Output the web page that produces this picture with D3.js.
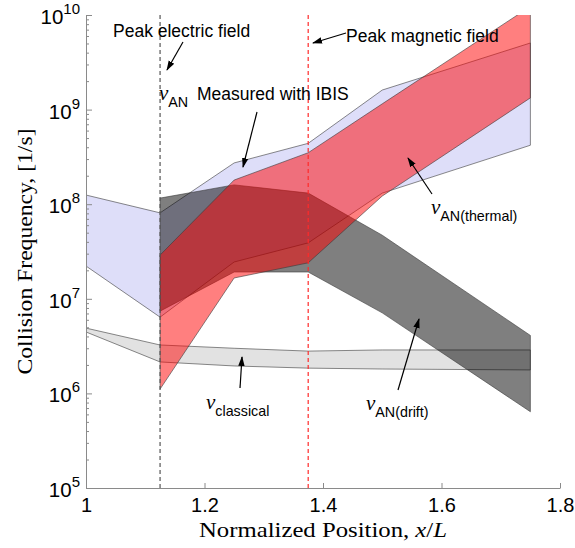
<!DOCTYPE html>
<html>
<head>
<meta charset="utf-8">
<script src="https://cdn.jsdelivr.net/npm/d3@7"></script>
<style>
  body { margin: 0; background: #fff; }
  svg { display: block; }
</style>
</head>
<body>
<div id="chart"></div>
<script>
// sample positions along the plasma (normalized x/L)
const xAll = [1, 1.125, 1.25, 1.375, 1.5, 1.75];
const xInner = [1.125, 1.25, 1.375, 1.5, 1.75];

// nu_AN measured with IBIS (blue band)
const ibisHigh = [1.25e8, 8.1e7, 2.73e8, 4.4e8, 1.61e9, 5.06e9];
const ibisLow = [2.22e7, 6.4e6, 2.45e7, 3.9e7, 1.31e8, 4.2e8];

// nu_classical (light grey band)
const classicalHigh = [4.9e6, 3.25e6, 3.0e6, 2.8e6, 2.88e6, 2.88e6];
const classicalLow = [4.46e6, 2.15e6, 1.95e6, 1.85e6, 1.81e6, 1.77e6];

// nu_AN(drift) (dark grey band)
const driftHigh = [1.16e8, 1.6e8, 1.31e8, 4.7e7, 4.1e6];
const driftLow = [7.4e6, 1.92e7, 1.92e7, 7.1e6, 6.4e5];

// nu_AN(thermal) (red band)
const thermalHigh = [2.9e7, 1.8e8, 3.5e8, 1.15e9, 1.23e10];
const thermalLow = [1.11e6, 1.66e7, 2.4e7, 1.22e8, 1.33e9];

// vertical markers
const peakElectric = 1.125;
const peakMagnetic = 1.375;

const xTicks = [1, 1.2, 1.4, 1.6, 1.8];
const yDecades = [5, 6, 7, 8, 9, 10];

const width = 575, height = 548;
const margin = { top: 15, right: 15, bottom: 60, left: 86 };

const svg = d3.select("#chart").append("svg")
  .attr("width", width)
  .attr("height", height);

const x = d3.scaleLinear()
  .domain([1, 1.8])
  .range([margin.left, width - margin.right]);

const y = d3.scaleLog()
  .domain([1e5, 1e10])
  .range([height - margin.bottom, margin.top]);

svg.append("defs").append("clipPath")
  .attr("id", "plot-clip")
  .append("rect")
  .attr("x", x(1)).attr("y", y(1e10))
  .attr("width", x(1.8) - x(1))
  .attr("height", y(1e5) - y(1e10));

svg.select("defs").append("marker")
  .attr("id", "arrow")
  .attr("viewBox", "0 -4 10 8")
  .attr("refX", 9).attr("refY", 0)
  .attr("markerWidth", 10).attr("markerHeight", 8)
  .attr("markerUnits", "userSpaceOnUse")
  .attr("orient", "auto")
  .append("path")
  .attr("d", "M0,-3.2L10,0L0,3.2Z")
  .attr("fill", "#000");

// band = polygon between the low and high series
const area = d3.area()
  .x(d => x(d.x))
  .y0(d => y(d.lo))
  .y1(d => y(d.hi));

function band(xs, hi, lo) {
  return xs.map((v, i) => ({ x: v, hi: hi[i], lo: lo[i] }));
}

const plot = svg.append("g").attr("clip-path", "url(#plot-clip)");

function drawBand(data, fill, opacity) {
  plot.append("path")
    .datum(data)
    .attr("d", area)
    .attr("fill", fill)
    .attr("fill-opacity", opacity)
    .attr("stroke", "#3a3a3a")
    .attr("stroke-width", 0.6)
    .attr("stroke-linejoin", "round");
}

drawBand(band(xAll, ibisHigh, ibisLow), "#dedef9", 1);
drawBand(band(xAll, classicalHigh, classicalLow), "#e2e2e2", 1);
drawBand(band(xInner, driftHigh, driftLow), "#000", 0.5);
drawBand(band(xInner, thermalHigh, thermalLow), "#ff0000", 0.5);

// dashed markers
svg.append("line")
  .attr("x1", x(peakElectric)).attr("x2", x(peakElectric))
  .attr("y1", y(1e10)).attr("y2", y(1e5))
  .attr("stroke", "#555")
  .attr("stroke-width", 1.2)
  .attr("stroke-dasharray", "4,3");

svg.append("line")
  .attr("x1", x(peakMagnetic)).attr("x2", x(peakMagnetic))
  .attr("y1", y(1e10)).attr("y2", y(1e5))
  .attr("stroke", "#ff2a2a")
  .attr("stroke-width", 1.2)
  .attr("stroke-dasharray", "4,3");

// axes (ticks point inward, left and bottom only)
const axisColor = "#8a8a8a";

const gx = svg.append("g")
  .attr("transform", `translate(0,${y(1e5)})`)
  .call(d3.axisBottom(x).tickValues(xTicks).tickSizeInner(-5).tickSizeOuter(0).tickPadding(10)
    .tickFormat(d3.format("")));
gx.select(".domain").attr("stroke", axisColor);
gx.selectAll(".tick line").attr("stroke", axisColor);
gx.selectAll(".tick text")
  .attr("font-family", "Liberation Sans, Arial, sans-serif")
  .attr("font-size", 20)
  .attr("fill", "#000");

const minorVals = [];
yDecades.slice(0, -1).forEach(e => {
  for (let k = 2; k <= 9; k++) minorVals.push(k * Math.pow(10, e));
});

const gyMinor = svg.append("g")
  .attr("transform", `translate(${x(1)},0)`)
  .call(d3.axisLeft(y).tickValues(minorVals).tickSizeInner(-3).tickSizeOuter(0).tickFormat(""));
gyMinor.select(".domain").remove();
gyMinor.selectAll(".tick line").attr("stroke", axisColor);

const gy = svg.append("g")
  .attr("transform", `translate(${x(1)},0)`)
  .call(d3.axisLeft(y).tickValues(yDecades.map(e => Math.pow(10, e))).tickSizeInner(-6).tickSizeOuter(0).tickFormat(""));
gy.select(".domain").attr("stroke", axisColor);
gy.selectAll(".tick line").attr("stroke", axisColor);

// y tick labels as 10^n
const yLabels = svg.append("g")
  .attr("font-family", "Liberation Sans, Arial, sans-serif")
  .attr("fill", "#000");
yDecades.forEach(e => {
  const t = yLabels.append("text")
    .attr("x", x(1) - 6)
    .attr("y", y(Math.pow(10, e)) + 9)
    .attr("text-anchor", "end")
    .attr("font-size", 20.5);
  t.append("tspan").text("10");
  t.append("tspan").attr("dy", -10).attr("font-size", 15).text(e);
});

// axis titles
svg.append("text")
  .attr("transform", `translate(32,${(y(1e5) + y(1e10)) / 2}) rotate(-90)`)
  .attr("text-anchor", "middle")
  .attr("font-family", "Liberation Serif, Times New Roman, serif")
  .attr("font-size", 21)
  .attr("textLength", 246)
  .attr("lengthAdjust", "spacingAndGlyphs")
  .text("Collision Frequency, [1/s]");

const xt = svg.append("text")
  .attr("x", (x(1) + x(1.8)) / 2)
  .attr("y", 537)
  .attr("text-anchor", "middle")
  .attr("font-family", "Liberation Serif, Times New Roman, serif")
  .attr("font-size", 21)
  .attr("textLength", 248)
  .attr("lengthAdjust", "spacingAndGlyphs");
xt.append("tspan").text("Normalized Position, ");
xt.append("tspan").attr("font-style", "italic").text("x");
xt.append("tspan").text("/");
xt.append("tspan").attr("font-style", "italic").text("L");

// annotations
const notes = svg.append("g")
  .attr("font-family", "Liberation Sans, Arial, sans-serif")
  .attr("fill", "#000");

notes.append("text").attr("x", 113).attr("y", 37).attr("font-size", 17.5).text("Peak electric field");
notes.append("text").attr("x", 346).attr("y", 42).attr("font-size", 17.5).text("Peak magnetic field");
notes.append("text").attr("x", 197).attr("y", 100).attr("font-size", 17.5).text("Measured with IBIS");

function nuLabel(px, py, sub) {
  const t = notes.append("text").attr("x", px).attr("y", py);
  t.append("tspan")
    .attr("font-family", "Liberation Serif, Times New Roman, serif")
    .attr("font-style", "italic")
    .attr("font-size", 21)
    .text("ν");
  t.append("tspan").attr("dy", 7).attr("font-size", 14.3).text(sub);
}

nuLabel(159, 100, "AN");
nuLabel(431, 214, "AN(thermal)");
nuLabel(206, 409, "classical");
nuLabel(366, 410, "AN(drift)");

const arrows = [
  [183, 42, 167, 70],
  [346, 33, 313, 43],
  [257, 112, 243, 167],
  [432, 194, 408, 158],
  [240, 388, 242, 357],
  [398, 390, 419, 319]
];

svg.append("g").selectAll("line")
  .data(arrows)
  .join("line")
  .attr("x1", d => d[0]).attr("y1", d => d[1])
  .attr("x2", d => d[2]).attr("y2", d => d[3])
  .attr("stroke", "#000")
  .attr("stroke-width", 1.2)
  .attr("marker-end", "url(#arrow)");
</script>
</body>
</html>
